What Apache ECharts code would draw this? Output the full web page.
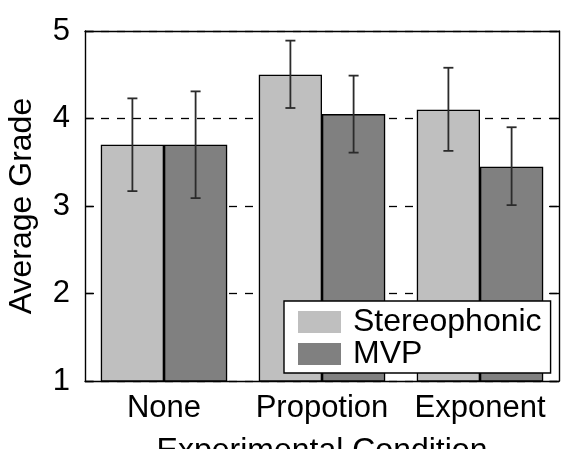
<!DOCTYPE html>
<html>
<head>
<meta charset="utf-8">
<script src="https://cdn.jsdelivr.net/npm/echarts@6/dist/echarts.min.js"></script>
<style>
  html, body { margin: 0; padding: 0; background: #fff; }
  #chart { width: 562px; height: 449px; }
</style>
</head>
<body>
<div id="chart"></div>
<script>
// Experimental conditions and the average grades per playback method
const categories = ['None', 'Propotion', 'Exponent'];
const stereoMean = [3.70, 4.50, 4.10];
const stereoLow  = [3.17, 4.12, 3.63];
const stereoHigh = [4.23, 4.89, 4.58];
const mvpMean = [3.70, 4.05, 3.45];
const mvpLow  = [3.09, 3.61, 3.01];
const mvpHigh = [4.31, 4.49, 3.90];
const yTicks = [1, 2, 3, 4, 5];

const FONT = 'Liberation Sans, Arial, sans-serif';

// Error bar drawn at a category, shifted left/right by a fraction of the band
function errorBars(low, high, shift) {
  return {
    type: 'custom',
    z: 5,
    data: categories.map((c, i) => [i, low[i], high[i]]),
    renderItem: function (params, api) {
      const band = api.size([1, 0])[0];
      const lo = api.coord([api.value(0), api.value(1)]);
      const hi = api.coord([api.value(0), api.value(2)]);
      const x = lo[0] + shift * band;
      const cap = 5;
      const style = { stroke: '#2b2b2b', lineWidth: 1.8 };
      return {
        type: 'group',
        children: [
          { type: 'line', shape: { x1: x, y1: lo[1], x2: x, y2: hi[1] }, style: style },
          { type: 'line', shape: { x1: x - cap, y1: lo[1], x2: x + cap, y2: lo[1] }, style: style },
          { type: 'line', shape: { x1: x - cap, y1: hi[1], x2: x + cap, y2: hi[1] }, style: style }
        ]
      };
    }
  };
}

const chart = echarts.init(document.getElementById('chart'));
chart.setOption({
  animation: false,
  backgroundColor: '#fff',
  textStyle: { fontFamily: FONT },
  grid: { left: 85, right: 3, top: 31, bottom: 68, outerBoundsMode: 'none', containLabel: false },
  legend: {
    left: 284, top: 301,
    orient: 'vertical',
    backgroundColor: '#fff',
    borderColor: '#000',
    borderWidth: 1.4,
    borderRadius: 0,
    padding: [5, 9, 3, 14],
    itemWidth: 43, itemHeight: 22, itemGap: 0,
    icon: 'rect',
    itemStyle: { borderWidth: 0 },
    textStyle: { fontSize: 32, color: '#000', fontFamily: FONT, padding: [0, 0, 0, 7] },
    data: ['Stereophonic', 'MVP']
  },
  xAxis: [{
    type: 'category',
    data: categories,
    position: 'bottom',
    name: 'Experimental Condition',
    nameLocation: 'middle',
    nameGap: 54,
    nameTextStyle: { fontSize: 32, color: '#000', fontFamily: FONT },
    axisLine: { lineStyle: { color: '#000', width: 1.4 } },
    axisTick: { show: false },
    axisLabel: { fontSize: 31, color: '#000', margin: 12, fontFamily: FONT, interval: 0, hideOverlap: false }
  }, {
    type: 'category',
    data: categories,
    position: 'top',
    axisLine: { lineStyle: { color: '#000', width: 1.4 } },
    axisTick: { inside: true, alignWithLabel: true, length: 8, lineStyle: { color: '#000', width: 1.4 } },
    axisLabel: { show: false }
  }],
  yAxis: [{
    type: 'value',
    min: 1, max: 5, interval: 1,
    name: 'Average Grade',
    nameLocation: 'middle',
    nameGap: 47,
    nameTextStyle: { fontSize: 32, color: '#000', fontFamily: FONT },
    axisLine: { show: true, lineStyle: { color: '#000', width: 1.4 } },
    axisTick: { show: true, inside: true, length: 9, lineStyle: { color: '#000', width: 1.4 } },
    axisLabel: { fontSize: 31, color: '#000', margin: 15, fontFamily: FONT,
      formatter: v => yTicks.includes(v) ? String(v) : '' },
    splitLine: { show: true, lineStyle: { color: '#000', width: 1.3, type: [8, 8] } }
  }, {
    type: 'value',
    min: 1, max: 5, interval: 1,
    position: 'right',
    axisLine: { show: true, lineStyle: { color: '#000', width: 1.4 } },
    axisTick: { show: true, inside: true, length: 9, lineStyle: { color: '#000', width: 1.4 } },
    axisLabel: { show: false },
    splitLine: { show: false }
  }],
  series: [{
    name: 'Stereophonic',
    type: 'bar',
    data: stereoMean,
    barGap: 0,
    barCategoryGap: '20%',
    itemStyle: { color: '#bfbfbf', borderColor: '#000', borderWidth: 1.3 }
  }, {
    name: 'MVP',
    type: 'bar',
    data: mvpMean,
    barGap: 0,
    barCategoryGap: '20%',
    itemStyle: { color: '#808080', borderColor: '#000', borderWidth: 1.3 }
  },
  errorBars(stereoLow, stereoHigh, -0.2),
  errorBars(mvpLow, mvpHigh, 0.2)
  ]
});
</script>
</body>
</html>
